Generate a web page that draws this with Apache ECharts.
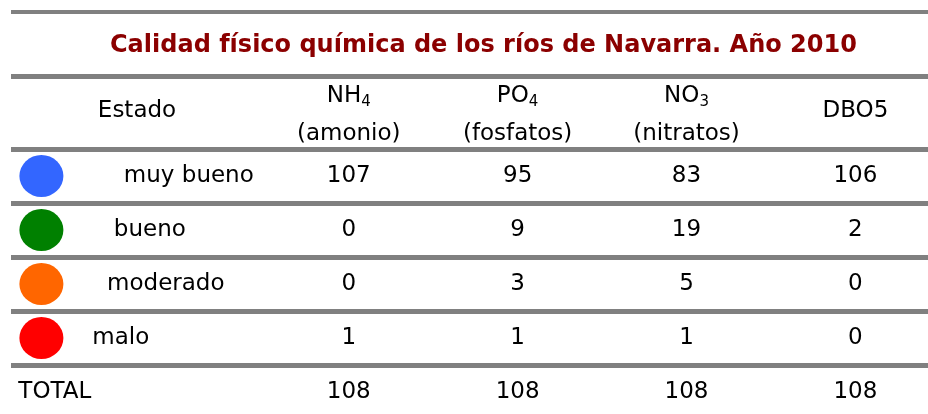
<!DOCTYPE html>
<html lang="es">
<head>
<meta charset="utf-8">
<title>Calidad físico química de los ríos de Navarra</title>
<script src="https://cdn.jsdelivr.net/npm/echarts@6/dist/echarts.min.js"></script>
<style>
html, body { margin: 0; padding: 0; background: #fff; }
#main { width: 928px; height: 414px; }
</style>
</head>
<body>
<div id="main"></div>
<script>
// datos de la tabla
var titulo = 'Calidad físico química de los ríos de Navarra. Año 2010';
var estados = ['muy bueno', 'bueno', 'moderado', 'malo'];
var filaTotal = 'TOTAL';
var parametros = ['NH4', 'PO4', 'NO3', 'DBO5'];
var formulas = [['NH', '4'], ['PO', '4'], ['NO', '3'], ['DBO5', '']];
var nombres = ['(amonio)', '(fosfatos)', '(nitratos)', ''];
var nh4 = [107, 0, 0, 1];
var po4 = [95, 9, 3, 1];
var no3 = [83, 19, 5, 1];
var dbo5 = [106, 2, 0, 0];
var totales = [108, 108, 108, 108];

// estilo (no son datos)
var coloresEstado = ['#3366ff', '#008000', '#ff6600', '#ff0000'];
var desplazEstado = [52, 13, 29, -16, -82];   // px respecto al centro de la columna Estado
var xCirculo = -0.82;
var xEstado = -0.255;
var gris = '#808080';
var fuente = '"DejaVu Sans", Verdana, sans-serif';

var filas = estados.concat([filaTotal]);
var columnas = [nh4, po4, no3, dbo5];

var celdas = [];
for (var c = 0; c < columnas.length; c++) {
    for (var r = 0; r < estados.length; r++) {
        celdas.push([c + 1, estados[r], columnas[c][r]]);
    }
    celdas.push([c + 1, filaTotal, totales[c]]);
}

var circulos = estados.map(function (e, i) {
    return { value: [xCirculo, e], itemStyle: { color: coloresEstado[i] } };
});

var etiquetasEstado = filas.map(function (e, i) {
    return { value: [xEstado, e], label: { offset: [desplazEstado[i], 0] } };
});

var etiquetaCelda = {
    show: true,
    position: 'inside',
    fontFamily: fuente,
    fontSize: 23,
    color: '#000',
    opacity: 1
};

var myChart = echarts.init(document.getElementById('main'));
var option = {
    backgroundColor: '#fff',
    animation: false,
    title: {
        text: titulo,
        left: 105,
        top: 29,
        textStyle: { color: '#8b0000', fontFamily: fuente, fontWeight: 'bold', fontSize: 24 }
    },
    graphic: [
        { type: 'rect', shape: { x: 11, y: 10, width: 917, height: 4 }, style: { fill: gris } },
        { type: 'rect', shape: { x: 11, y: 74, width: 917, height: 5 }, style: { fill: gris } },
        { type: 'text', x: 137, y: 111, style: { text: 'Estado', font: '23px ' + fuente, fill: '#000', align: 'center', verticalAlign: 'middle' } }
    ],
    grid: { left: 11, right: 0, top: 149, height: 270, outerBoundsMode: 'none' },
    xAxis: {
        type: 'value',
        position: 'top',
        min: -1,
        max: 4.43,
        interval: 1,
        axisLine: { show: false },
        axisTick: { show: false },
        splitLine: { show: false },
        axisLabel: {
            margin: -4,
            showMaxLabel: false,
            formatter: function (v) {
                var i = Math.round(v) - 1;
                if (Math.abs(v - Math.round(v)) > 1e-6 || i < 0 || i >= parametros.length) return '';
                var f = formulas[i];
                if (!nombres[i]) return '{m|' + f[0] + '}';
                return '{n|' + f[0] + '}{s|' + f[1] + '}\n{n|' + nombres[i] + '}';
            },
            rich: {
                n: { fontFamily: fuente, fontSize: 23, color: '#000', lineHeight: 38 },
                m: { fontFamily: fuente, fontSize: 23, color: '#000', lineHeight: 84 },
                s: { fontFamily: fuente, fontSize: 15, color: '#000', lineHeight: 38, padding: [12, 0, 0, 0] }
            }
        }
    },
    yAxis: {
        type: 'category',
        inverse: true,
        data: filas,
        axisLine: { show: false },
        axisTick: { show: false },
        axisLabel: { show: false },
        splitLine: { show: true, lineStyle: { color: gris, width: 5 } }
    },
    series: [
        {
            type: 'scatter',
            data: circulos,
            symbol: 'circle',
            symbolSize: [44, 42],
            itemStyle: { opacity: 1 },
            silent: true
        },
        {
            type: 'scatter',
            data: etiquetasEstado,
            symbolSize: 1,
            itemStyle: { color: 'rgba(0,0,0,0)', opacity: 1 },
            label: Object.assign({}, etiquetaCelda, {
                formatter: function (p) { return p.value[1]; }
            }),
            silent: true
        },
        {
            type: 'scatter',
            data: celdas,
            symbolSize: 1,
            itemStyle: { color: 'rgba(0,0,0,0)', opacity: 1 },
            label: Object.assign({}, etiquetaCelda, {
                formatter: function (p) { return String(p.value[2]); }
            }),
            silent: true
        }
    ]
};
myChart.setOption(option);
</script>
</body>
</html>
